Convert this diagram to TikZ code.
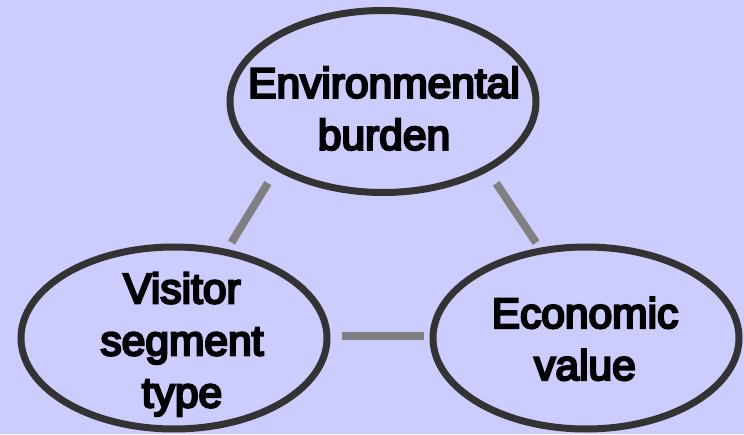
\documentclass[tikz,border=0pt]{standalone}
\usepackage{fontspec}
\newfontfamily\diagfont{Liberation Sans}[FakeBold=5.5]
\usetikzlibrary{shapes.geometric}
\definecolor{backblue}{HTML}{CCCCFF}
\definecolor{rimgray}{HTML}{333333}
\definecolor{linkgray}{HTML}{808080}
\tikzset{bubble/.style = {ellipse, draw=rimgray, line width=7pt,
                          minimum width=306pt, minimum height=182pt,
                          inner sep=0pt, outer sep=0pt},
         words/.style = {align=center, inner sep=0pt,
                         font=\diagfont\fontsize{42.5}{52}\selectfont},
         link/.style = {draw=linkgray, line width=8pt}}

\begin{document}
\begin{tikzpicture}[x=1pt, y=1pt]
    \fill [backblue] (0, 0) rectangle (744, 434);
    \useasboundingbox (0, 0) rectangle (744, 434);
    \node [bubble] (env) at (383, 332.5) {};
    \node [bubble] (visitor) at (174, 96) {};
    \node [bubble] (econ) at (586, 96) {};
    \node [words] (envtext) at (384, 325.5) {Environmental\\burden};
    \node [words] (visitortext) at (182, 89.7) {Visitor\\segment\\type};
    \node [words] (econtext) at (585, 95.2) {Economic\\value};
    \draw [link, shorten <=18.5pt, shorten >=11.5pt] (env.212.9) -- (visitor.59.6);
    \draw [link, shorten <=17.7pt, shorten >=9.9pt] (env.327.7) -- (econ.117.3);
    \draw [link, shorten <=15pt, shorten >=9pt]
        ([yshift=2.3pt] visitor.east) -- ([yshift=2.3pt] econ.west);
\end{tikzpicture}
\end{document}
